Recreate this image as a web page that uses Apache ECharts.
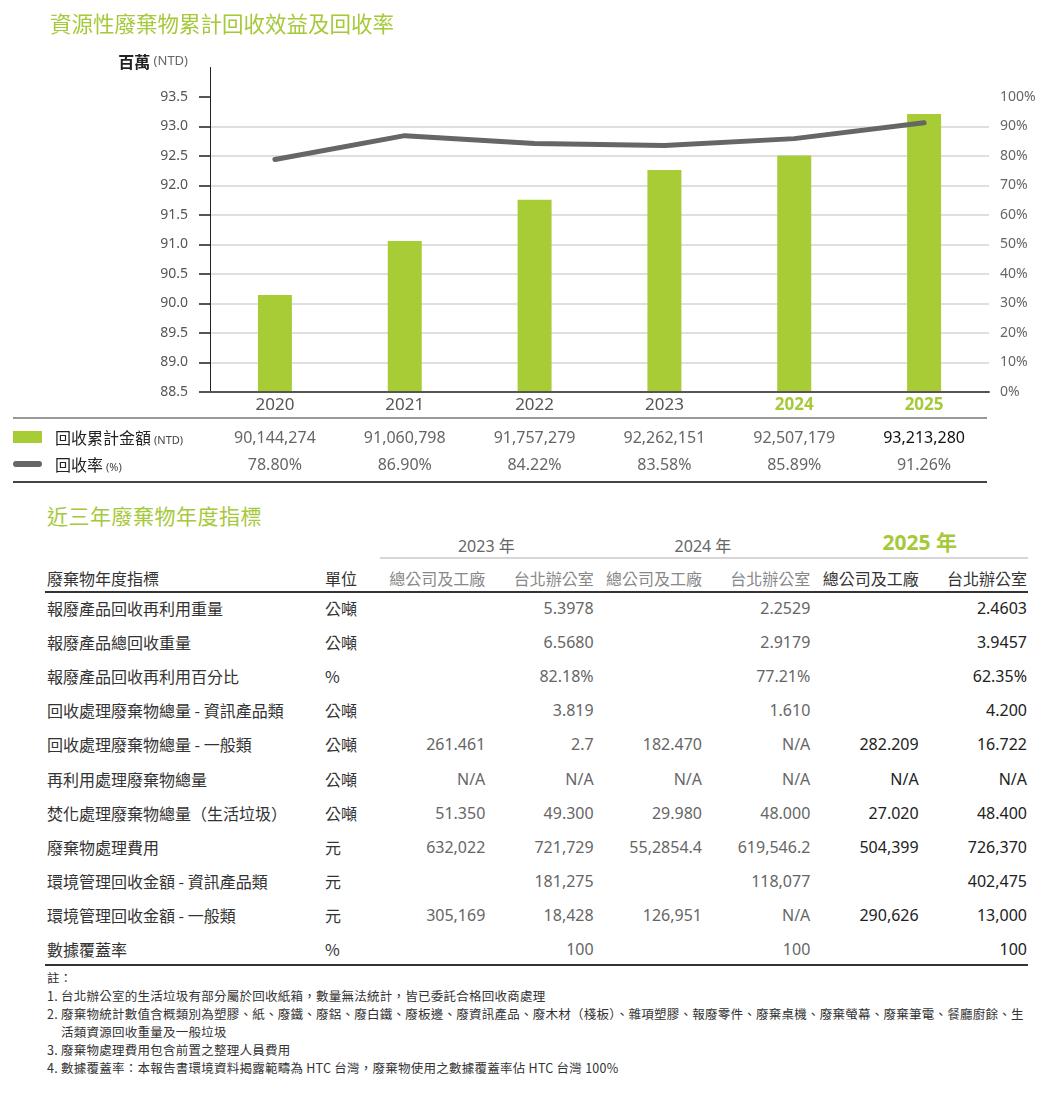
<!DOCTYPE html>
<html>
<head>
<meta charset="utf-8">
<script src="https://cdn.jsdelivr.net/npm/echarts@6/dist/echarts.min.js"></script>
<style>
  html, body { margin: 0; padding: 0; background: #fff; }
  body { width: 1048px; height: 1096px; position: relative; overflow: hidden;
         font-family: "Noto Sans", "Noto Sans CJK TC", sans-serif; }
  .abs { position: absolute; white-space: nowrap; }
  .green { color: #a6c93a; }
  .num { font-family: "Noto Sans", "Noto Sans CJK TC", sans-serif; }
  .cjk { font-family: "Noto Sans CJK TC", "Noto Sans", sans-serif; }
</style>
</head>
<body>
<div id="chart" class="abs" style="left:0;top:0;width:1048px;height:420px;"></div>
<div id="legendTable"></div>
<div id="title2" class="abs cjk green" style="left:47px;top:500px;font-size:21px;letter-spacing:0.5px;">近三年廢棄物年度指標</div>
<div id="wasteTable"></div>
<div id="notes"></div>

<script>
// --- 資料 ---
const years = ['2020', '2021', '2022', '2023', '2024', '2025'];
const amounts = [90144274, 91060798, 91757279, 92262151, 92507179, 93213280]; // NTD
const rates = [78.80, 86.90, 84.22, 83.58, 85.89, 91.26]; // %
const leftTicks = [88.5, 89.0, 89.5, 90.0, 90.5, 91.0, 91.5, 92.0, 92.5, 93.0, 93.5];
const rightTicks = [0, 10, 20, 30, 40, 50, 60, 70, 80, 90, 100];

const indicators = [
  '報廢產品回收再利用重量', '報廢產品總回收重量', '報廢產品回收再利用百分比',
  '回收處理廢棄物總量 - 資訊產品類', '回收處理廢棄物總量 - 一般類', '再利用處理廢棄物總量',
  '焚化處理廢棄物總量（生活垃圾）', '廢棄物處理費用', '環境管理回收金額 - 資訊產品類',
  '環境管理回收金額 - 一般類', '數據覆蓋率'
];
const units = ['公噸', '公噸', '%', '公噸', '公噸', '公噸', '公噸', '元', '元', '元', '%'];
const tableYears = ['2023 年', '2024 年', '2025 年'];
const sites = ['總公司及工廠', '台北辦公室'];
const v2023hq = ['', '', '', '', '261.461', 'N/A', '51.350', '632,022', '', '305,169', ''];
const v2023tp = ['5.3978', '6.5680', '82.18%', '3.819', '2.7', 'N/A', '49.300', '721,729', '181,275', '18,428', '100'];
const v2024hq = ['', '', '', '', '182.470', 'N/A', '29.980', '55,2854.4', '', '126,951', ''];
const v2024tp = ['2.2529', '2.9179', '77.21%', '1.610', 'N/A', 'N/A', '48.000', '619,546.2', '118,077', 'N/A', '100'];
const v2025hq = ['', '', '', '', '282.209', 'N/A', '27.020', '504,399', '', '290,626', ''];
const v2025tp = ['2.4603', '3.9457', '62.35%', '4.200', '16.722', 'N/A', '48.400', '726,370', '402,475', '13,000', '100'];

const notes = [
  '1. 台北辦公室的生活垃圾有部分屬於回收紙箱，數量無法統計，皆已委託合格回收商處理',
  '2. 廢棄物統計數值含概類別為塑膠、紙、廢鐵、廢鋁、廢白鐵、廢板邊、廢資訊產品、廢木材（棧板）、雜項塑膠、報廢零件、廢棄桌機、廢棄螢幕、廢棄筆電、餐廳廚餘、生<br>活類資源回收重量及一般垃圾',
  '3. 廢棄物處理費用包含前置之整理人員費用',
  '4. 數據覆蓋率：本報告書環境資料揭露範疇為 HTC 台灣，廢棄物使用之數據覆蓋率佔 HTC 台灣 100%'
];

const GREEN = '#a8cc36';
const GRID_LEFT = 210, GRID_RIGHT_X = 989;

// --- 圖表 ---
const chart = echarts.init(document.getElementById('chart'));
chart.setOption({
  animation: false,
  title: {
    text: '資源性廢棄物累計回收效益及回收率',
    left: 45, top: 8,
    textStyle: { color: '#a6c93a', fontSize: 21.5, fontWeight: 'normal', fontFamily: 'Noto Sans CJK TC' }
  },
  grid: { left: GRID_LEFT, right: 1048 - GRID_RIGHT_X, top: 67.5, bottom: 28 },
  xAxis: {
    type: 'category',
    data: years,
    axisLine: { lineStyle: { color: '#555', width: 2 } },
    axisTick: { show: false },
    axisLabel: {
      margin: 5, fontSize: 17, color: '#555', fontFamily: 'Noto Sans',
      formatter: v => (v === '2024' || v === '2025') ? '{hl|' + v + '}' : v,
      rich: { hl: { color: '#a6c93a', fontWeight: 'bold', fontSize: 17, fontFamily: 'Noto Sans' } }
    },
    z: 5
  },
  yAxis: [{
    type: 'value', min: 88.5, max: 94, interval: 0.5,
    name: '{a|百萬} {b|(NTD)}',
    nameLocation: 'end', nameGap: 6,
    nameTextStyle: {
      align: 'right', verticalAlign: 'middle', padding: [0, 22, 0, 0],
      rich: {
        a: { fontSize: 16, fontWeight: 'bold', color: '#222', fontFamily: 'Noto Sans CJK TC' },
        b: { fontSize: 13, color: '#666', fontFamily: 'Noto Sans' }
      }
    },
    axisLine: { show: true, lineStyle: { color: '#222', width: 1 } },
    axisTick: { show: true, length: 11, customValues: leftTicks, lineStyle: { color: '#555', width: 2 } },
    axisLabel: {
      customValues: leftTicks, margin: 22, fontSize: 14, color: '#555', fontFamily: 'Noto Sans',
      formatter: v => Number(v).toFixed(1)
    },
    splitLine: { show: true, showMaxLine: false, showMinLine: false, lineStyle: { color: '#d4d4d4', width: 1.5 } }
  }, {
    type: 'value', min: 0, max: 110, interval: 10, position: 'right',
    axisLine: { show: false }, axisTick: { show: false }, splitLine: { show: false },
    axisLabel: {
      customValues: rightTicks, margin: 11, fontSize: 14, color: '#666', fontFamily: 'Noto Sans',
      formatter: '{value}%'
    }
  }],
  series: [{
    name: '回收累計金額',
    type: 'bar',
    yAxisIndex: 0,
    barWidth: 34,
    itemStyle: { color: GREEN },
    data: amounts.map(a => a / 1e6)
  }, {
    name: '回收率',
    type: 'line',
    yAxisIndex: 1,
    symbol: 'none',
    lineStyle: { color: '#666', width: 5, cap: 'round', join: 'round' },
    data: rates,
    z: 6
  }]
});

// --- 圖表下方資料列 ---
(function buildLegendTable() {
  const box = document.getElementById('legendTable');
  const colW = (GRID_RIGHT_X - GRID_LEFT) / years.length;
  let html = '';
  html += `<div class="abs" style="left:13px;top:417px;width:${GRID_RIGHT_X - 15}px;height:0;border-top:2px solid #999;"></div>`;
  html += `<div class="abs" style="left:13px;top:481px;width:${GRID_RIGHT_X - 15}px;height:0;border-top:2px solid #444;"></div>`;
  html += `<div class="abs" style="left:13px;top:431px;width:29px;height:12px;background:${GREEN};"></div>`;
  html += `<div class="abs" style="left:13px;top:461px;width:29px;height:6px;border-radius:3px;background:#666;"></div>`;
  html += `<div class="abs cjk" style="left:55px;top:426px;font-size:16px;line-height:22px;color:#222;">回收累計金額<span class="num" style="font-size:11px;color:#444;margin-left:3px;">(NTD)</span></div>`;
  html += `<div class="abs cjk" style="left:55px;top:453px;font-size:16px;line-height:22px;color:#222;">回收率<span class="num" style="font-size:11px;color:#444;margin-left:3px;">(%)</span></div>`;
  years.forEach((y, i) => {
    const left = GRID_LEFT + colW * i;
    const col = i === years.length - 1 ? '#111' : '#666';
    html += `<div class="abs num" style="left:${left}px;top:426px;width:${colW}px;text-align:center;font-size:16px;line-height:22px;color:${col};">${amounts[i].toLocaleString('en-US')}</div>`;
    html += `<div class="abs num" style="left:${left}px;top:453px;width:${colW}px;text-align:center;font-size:16px;line-height:22px;color:#666;">${rates[i].toFixed(2)}%</div>`;
  });
  box.innerHTML = html;
})();

// --- 廢棄物年度指標表 ---
(function buildWasteTable() {
  const box = document.getElementById('wasteTable');
  const colStart = 378, colEnd = 1028, colW = (colEnd - colStart) / 6;
  const cols = [v2023hq, v2023tp, v2024hq, v2024tp, v2025hq, v2025tp];
  const rowH = 34.1, firstTop = 592;
  let html = '';
  // 年度標題
  tableYears.forEach((y, k) => {
    const left = colStart + colW * 2 * k;
    const last = k === tableYears.length - 1;
    const style = last
      ? 'font-size:21px;font-weight:bold;color:#a6c93a;top:529px;'
      : 'font-size:16px;color:#666;top:533px;';
    html += `<div class="abs num" style="left:${left}px;width:${colW * 2}px;text-align:center;line-height:26px;${style}">${y}</div>`;
  });
  html += `<div class="abs" style="left:380px;top:557px;width:${colEnd - 380}px;border-top:2px solid #d6d6d6;"></div>`;
  // 欄位標題
  html += `<div class="abs cjk" style="left:47px;top:566px;font-size:16px;line-height:24px;color:#333;">廢棄物年度指標</div>`;
  html += `<div class="abs cjk" style="left:325px;top:566px;font-size:16px;line-height:24px;color:#333;">單位</div>`;
  for (let c = 0; c < 6; c++) {
    const left = colStart + colW * c;
    const col = c >= 4 ? '#333' : '#888';
    html += `<div class="abs cjk" style="left:${left}px;top:566px;width:${colW - 1}px;text-align:right;font-size:16px;line-height:24px;color:${col};">${sites[c % 2]}</div>`;
  }
  html += `<div class="abs" style="left:45px;top:591px;width:${colEnd - 45}px;border-top:2px solid #333;"></div>`;
  // 資料列
  indicators.forEach((name, r) => {
    const top = firstTop + rowH * r + 4;
    html += `<div class="abs cjk" style="left:47px;top:${top}px;font-size:16px;line-height:24px;color:#333;">${name}</div>`;
    html += `<div class="abs cjk" style="left:325px;top:${top}px;font-size:16px;line-height:24px;color:#333;">${units[r]}</div>`;
    cols.forEach((arr, c) => {
      const left = colStart + colW * c;
      const col = c >= 4 ? '#222' : '#666';
      html += `<div class="abs num" style="left:${left}px;top:${top}px;width:${colW - 1}px;text-align:right;font-size:16px;line-height:24px;color:${col};">${arr[r]}</div>`;
    });
  });
  html += `<div class="abs" style="left:45px;top:964px;width:${colEnd - 45}px;border-top:2px solid #333;"></div>`;
  box.innerHTML = html;
})();

// --- 註 ---
(function buildNotes() {
  const box = document.getElementById('notes');
  let html = `<div class="abs cjk" style="left:47px;top:969px;font-size:12.5px;line-height:18px;color:#333;">註：</div>`;
  let top = 987;
  notes.forEach(n => {
    const lines = n.split('<br>').length;
    html += `<div class="abs cjk" style="left:47px;top:${top}px;font-size:12.5px;line-height:18px;color:#333;letter-spacing:0.25px;padding-left:14px;text-indent:-14px;">${n}</div>`;
    top += 18 * lines;
  });
  box.innerHTML = html;
})();
</script>
</body>
</html>
